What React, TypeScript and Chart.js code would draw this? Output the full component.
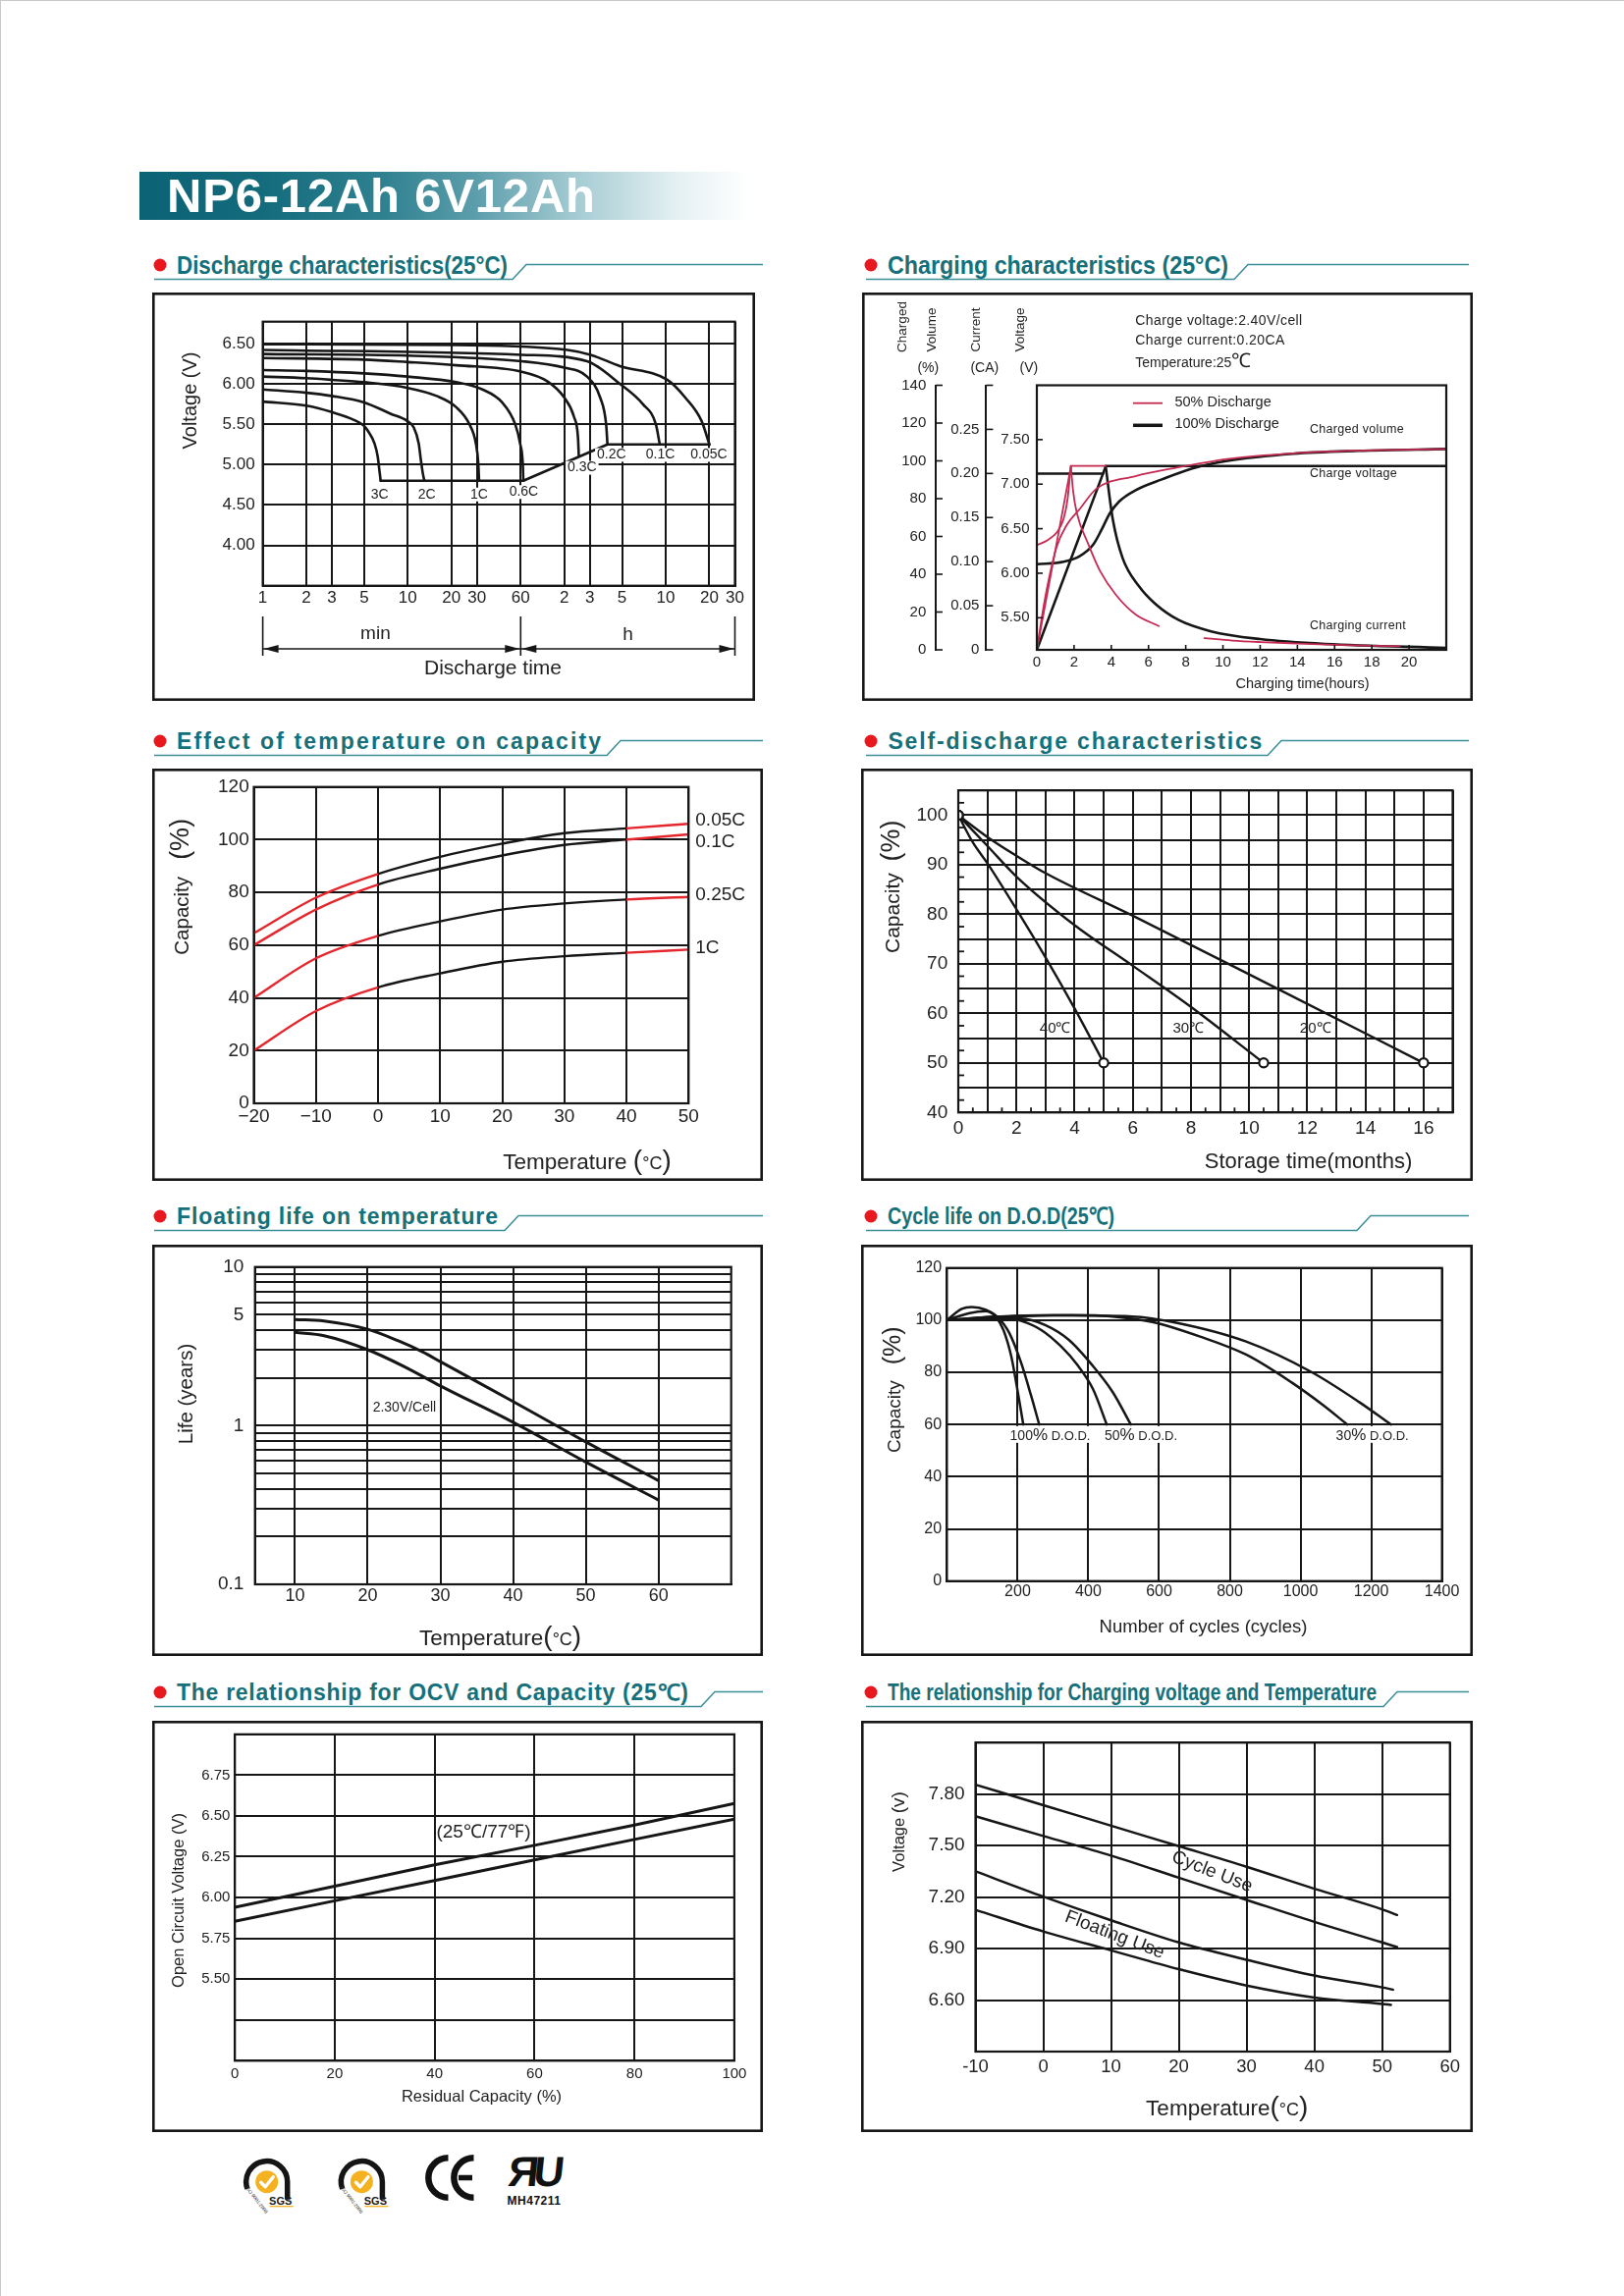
import React, { useEffect, useRef } from 'react';
import { Chart, registerables } from 'chart.js';

Chart.register(...registerables);

type Pt = [number, number];

const SANS = '"Liberation Sans", Arial, Helvetica, sans-serif';
const NARROW = '"Liberation Sans Narrow", "Arial Narrow", "Liberation Sans", sans-serif';
const INK = '#161616';
const TXT = '#222222';
const RED = '#e5262c';
const CRIMSON = '#c42a52';
const TEAL = '#16707a';
const TEAL_LINE = '#3a8f97';
const DOT_RED = '#e8181f';

Chart.defaults.font.family = SANS;
Chart.defaults.color = TXT;

/* ====================== DATA ====================== */

// 1. Discharge characteristics (x: minutes on log axis, y: volts)
const DIS_X_TICKS = [1, 2, 3, 5, 10, 20, 30, 60, 120, 180, 300, 600, 1200, 1800];
const DIS_X_LABELS = ['1', '2', '3', '5', '10', '20', '30', '60', '2', '3', '5', '10', '20', '30'];
const DIS_Y_TICKS = [4.0, 4.5, 5.0, 5.5, 6.0, 6.5];
const DIS_Y_LABELS = ['4.00', '4.50', '5.00', '5.50', '6.00', '6.50'];
const DIS_RATES = ['3C', '2C', '1C', '0.6C', '0.3C', '0.2C', '0.1C', '0.05C'];
const DIS_3C: Pt[] = [[1, 5.78], [2, 5.73], [3, 5.65], [4.3, 5.55], [5, 5.48], [5.3, 5.42], [5.9, 5.26], [6.2, 5.1], [6.4, 4.9], [6.5, 4.8]];
const DIS_2C: Pt[] = [[1, 5.93], [2, 5.89], [3, 5.85], [5, 5.77], [7.6, 5.63], [9.9, 5.54], [11, 5.46], [11.9, 5.26], [12.3, 5.06], [12.7, 4.89], [13, 4.8]];
const DIS_1C: Pt[] = [[1, 6.09], [2, 6.07], [3, 6.05], [5, 6.02], [10, 5.95], [15.8, 5.85], [21.6, 5.71], [26.6, 5.5], [29.5, 5.26], [30.6, 5.02], [31, 4.8]];
const DIS_06C: Pt[] = [[1, 6.17], [2, 6.16], [5, 6.13], [10, 6.09], [21.6, 6.02], [32.7, 5.93], [44.7, 5.77], [55, 5.5], [59.5, 5.26], [62, 5.02], [62.6, 4.8]];
const DIS_03C: Pt[] = [[1, 6.32], [5, 6.3], [10, 6.27], [21.6, 6.23], [61, 6.15], [92, 6.03], [120, 5.83], [140, 5.59], [149, 5.34], [151, 5.11]];
const DIS_02C: Pt[] = [[1, 6.37], [10, 6.35], [61, 6.28], [120, 6.2], [172, 6.09], [212, 5.83], [233, 5.5], [238, 5.25]];
const DIS_01C: Pt[] = [[1, 6.42], [61, 6.36], [172, 6.28], [290, 6.0], [417, 5.75], [513, 5.5], [546, 5.25]];
const DIS_005C: Pt[] = [[1, 6.49], [21.6, 6.48], [126, 6.42], [182, 6.36], [290, 6.22], [615, 6.05], [818, 5.83], [1060, 5.54], [1200, 5.25]];
const DIS_CUTOFF: Pt[] = [[6.5, 4.8], [62.6, 4.8], [238, 5.25], [1200, 5.25]];
const DIS_LABEL_AT: Pt[] = [[6.4, 4.63], [13.5, 4.63], [31, 4.63], [63, 4.66], [159, 4.96], [254, 5.12], [551, 5.12], [1190, 5.12]];

// 2. Charging characteristics (x: hours)
const CHG_X_TICKS = [0, 2, 4, 6, 8, 10, 12, 14, 16, 18, 20, 22];
const CHG_X_LABELS = ['0', '2', '4', '6', '8', '10', '12', '14', '16', '18', '20', ''];
const CHG_VOL_TICKS = [0, 20, 40, 60, 80, 100, 120, 140];
const CHG_VOL_LABELS = ['0', '20', '40', '60', '80', '100', '120', '140'];
const CHG_CUR_TICKS = [0, 0.05, 0.1, 0.15, 0.2, 0.25, 0.3];
const CHG_CUR_LABELS = ['0', '0.05', '0.10', '0.15', '0.20', '0.25', ''];
const CHG_V_TICKS = [5.5, 6.0, 6.5, 7.0, 7.5];
const CHG_V_LABELS = ['5.50', '6.00', '6.50', '7.00', '7.50'];
const CHG100_VOLUME: Pt[] = [[0, 45.3], [1.44, 46.6], [2.32, 49.7], [3.03, 55.7], [3.47, 63.4], [3.91, 72.1], [4.43, 78.6], [5.31, 84.5], [6.72, 90.2], [8.31, 95.9], [10.24, 100], [13.76, 103.8], [17.28, 105.3], [22, 106.3]];
const CHG100_CUR_RISE: Pt[] = [[0, 0], [3.7, 0.208]];
const CHG100_CUR_DECAY: Pt[] = [[3.7, 0.208], [4.08, 0.148], [4.61, 0.104], [5.49, 0.072], [6.37, 0.052], [7.6, 0.034], [9.36, 0.021], [12, 0.0122], [15.5, 0.0067], [22, 0.0022]];
const CHG100_VOLT_CC: Pt[] = [[0, 7.118], [3.55, 7.118]];
const CHG100_VOLT_CV: Pt[] = [[3.7, 7.204], [22, 7.204]];
const CHG50_VOLT_RISE: Pt[] = [[0, 6.315], [0.56, 6.37], [1.09, 6.463], [1.44, 6.61], [1.65, 6.83], [1.76, 7.056], [1.83, 7.204]];
const CHG50_VOLT_CV: Pt[] = [[1.83, 7.204], [3.7, 7.204]];
const CHG50_CUR_RISE: Pt[] = [[0, 0], [1.83, 0.208]];
const CHG50_CUR_DECAY: Pt[] = [[1.83, 0.208], [1.95, 0.18], [2.15, 0.155], [2.76, 0.12], [3.38, 0.09], [4.26, 0.062], [5.31, 0.04], [6.55, 0.027]];
const CHG50_CUR_TAIL: Pt[] = [[9.0, 0.0133], [10.5, 0.0105], [12, 0.0088], [14, 0.0072], [16, 0.0058], [18, 0.0047], [19.5, 0.004]];
const CHG50_VOLUME: Pt[] = [[0, 0], [0.4, 25], [1.05, 54], [1.6, 66], [2.32, 74.7], [3.17, 85], [5.3, 91.9], [7.4, 96.2], [10.24, 101], [13.76, 104], [17.28, 105.4], [22, 106.3]];

// 3. Effect of temperature on capacity
const TEMP_X = [-20, -10, 0, 10, 20, 30, 40, 50];
const TEMP_X_LABELS = ['\u221220', '\u221210', '0', '10', '20', '30', '40', '50'];
const CAP_Y_TICKS = [0, 20, 40, 60, 80, 100, 120];
const CAP_Y_LABELS = ['0', '20', '40', '60', '80', '100', '120'];
const CAP_005C = [64.5, 78, 87, 93.5, 98.5, 102.5, 104.3, 106];
const CAP_01C = [60, 73.5, 83, 89, 94, 98, 100, 102];
const CAP_025C = [40, 55, 63.5, 69, 73.5, 75.8, 77.3, 78.3];
const CAP_1C = [20, 35, 44, 49.3, 53.7, 55.8, 57.1, 58.3];
const CAP_NAMES = ['0.05C', '0.1C', '0.25C', '1C'];
const CAP_LABEL_Y = [107.3, 99.2, 79.1, 58.9];

// 4. Self-discharge characteristics (x: months)
const SD_X_TICKS = [0, 1, 2, 3, 4, 5, 6, 7, 8, 9, 10, 11, 12, 13, 14, 15, 16, 17];
const SD_X_LABELS = ['0', '', '2', '', '4', '', '6', '', '8', '', '10', '', '12', '', '14', '', '16', ''];
const SD_Y_TICKS = [40, 45, 50, 55, 60, 65, 70, 75, 80, 85, 90, 95, 100, 105];
const SD_Y_LABELS = ['40', '', '50', '', '60', '', '70', '', '80', '', '90', '', '100', ''];
const SD_40: Pt[] = [[0, 100], [0.5, 94.5], [1, 90.3], [2, 81], [3, 71.3], [4, 61], [5, 50]];
const SD_30: Pt[] = [[0, 100], [1, 93.8], [2, 87.6], [4, 77.8], [6, 69.6], [8, 61.3], [10.5, 50]];
const SD_20: Pt[] = [[0, 100], [1, 95.6], [2, 91.8], [3, 88.3], [6, 79.7], [11, 64.9], [16, 50]];
const SD_NAMES = ['40\u2103', '30\u2103', '20\u2103'];
const SD_LABEL_AT: Pt[] = [[3.33, 57], [7.91, 57], [12.28, 57]];

// 5. Floating life on temperature (y: years, log)
const LIFE_X_TICKS = [10, 20, 30, 40, 50, 60];
const LIFE_X_LABELS = ['10', '20', '30', '40', '50', '60'];
const LIFE_Y_TICKS = [0.1, 0.2, 0.3, 0.4, 0.5, 0.6, 0.7, 0.8, 0.9, 1, 2, 3, 4, 5, 6, 7, 8, 9, 10];
const LIFE_Y_LABELS = ['0.1', '', '', '', '', '', '', '', '', '1', '', '', '', '5', '', '', '', '', '10'];
const LIFE_UPPER: Pt[] = [[10, 4.66], [14, 4.57], [20, 4.05], [24.3, 3.41], [27.6, 2.91], [30, 2.53], [40, 1.42], [50, 0.79], [60, 0.45]];
const LIFE_LOWER: Pt[] = [[10, 3.87], [14, 3.69], [20, 3.01], [25, 2.36], [30, 1.78], [40, 1.05], [50, 0.59], [60, 0.34]];

// 6. Cycle life on D.O.D
const CYC_X_TICKS = [0, 200, 400, 600, 800, 1000, 1200, 1400];
const CYC_X_LABELS = ['', '200', '400', '600', '800', '1000', '1200', '1400'];
const CYC_Y_TICKS = [0, 20, 40, 60, 80, 100, 120];
const CYC_Y_LABELS = ['0', '20', '40', '60', '80', '100', '120'];
const DOD100_A: Pt[] = [[0, 100], [42, 104.3], [70, 105], [109, 104], [137, 101.5], [160, 96.2], [182, 86.1], [199, 73.6], [216, 60]];
const DOD100_B: Pt[] = [[0, 100], [64, 102.7], [109, 103.4], [143, 101.2], [177, 94.9], [210, 83.6], [238, 71.1], [261, 60]];
const DOD50_A: Pt[] = [[0, 100], [75, 100.8], [143, 101.4], [210, 99.7], [267, 96.2], [323, 89.9], [368, 83], [413, 73.6], [452, 60]];
const DOD50_B: Pt[] = [[0, 100], [210, 100.6], [278, 98.1], [345, 92.4], [413, 82.4], [469, 72.4], [520, 60]];
const DOD30_A: Pt[] = [[0, 100], [188, 101.6], [356, 101.9], [469, 101.4], [581, 99.3], [716, 93.7], [846, 86.8], [975, 76.1], [1065, 67.3], [1132, 60]];
const DOD30_B: Pt[] = [[0, 100], [300, 101.8], [525, 101.4], [638, 99.3], [846, 91.8], [1031, 80.1], [1166, 68.6], [1256, 60]];
const DOD_NAMES = ['100', '50', '30'];
const DOD_LABEL_AT: Pt[] = [[291.8, 56], [548.7, 56], [1202.9, 56]];

// 7. OCV vs capacity
const OCV_X_TICKS = [0, 20, 40, 60, 80, 100];
const OCV_X_LABELS = ['0', '20', '40', '60', '80', '100'];
const OCV_Y_TICKS = [5.0, 5.25, 5.5, 5.75, 6.0, 6.25, 6.5, 6.75, 7.0];
const OCV_Y_LABELS = ['', '', '5.50', '5.75', '6.00', '6.25', '6.50', '6.75', ''];
const OCV_UPPER: Pt[] = [[0, 5.94], [20, 6.07], [40, 6.2], [60, 6.32], [80, 6.444], [100, 6.576]];
const OCV_LOWER: Pt[] = [[0, 5.854], [20, 5.98], [40, 6.104], [60, 6.23], [80, 6.356], [100, 6.48]];

// 8. Charging voltage vs temperature
const CV_X_TICKS = [-10, 0, 10, 20, 30, 40, 50, 60];
const CV_X_LABELS = ['-10', '0', '10', '20', '30', '40', '50', '60'];
const CV_Y_TICKS = [6.3, 6.6, 6.9, 7.2, 7.5, 7.8, 8.1];
const CV_Y_LABELS = ['', '6.60', '6.90', '7.20', '7.50', '7.80', ''];
const CV_CYCLE_HI: Pt[] = [[-10, 7.855], [0, 7.736], [10, 7.616], [20, 7.497], [30, 7.377], [40, 7.249], [50, 7.129], [52.2, 7.096]];
const CV_CYCLE_LO: Pt[] = [[-10, 7.671], [0, 7.556], [10, 7.442], [20, 7.313], [30, 7.184], [40, 7.056], [50, 6.936], [52.2, 6.909]];
const CV_FLOAT_HI: Pt[] = [[-10, 7.35], [0, 7.203], [10, 7.065], [20, 6.936], [30, 6.835], [40, 6.743], [50, 6.674], [51.6, 6.661]];
const CV_FLOAT_LO: Pt[] = [[-10, 7.126], [0, 7.0], [10, 6.89], [20, 6.78], [30, 6.685], [40, 6.615], [50, 6.578], [51.3, 6.572]];

/* ====================== LAYOUT ====================== */

type Geo = { box: number[]; plot: number[] };
const G_DIS: Geo = { box: [155, 298, 614, 416], plot: [267.6, 327.7, 748.5, 596.7] };
const G_CHG: Geo = { box: [878, 298, 622, 416], plot: [1056, 392.5, 1473, 662] };
const G_CAP: Geo = { box: [155, 783, 622, 420], plot: [258.5, 801.7, 701.3, 1124] };
const G_SD: Geo = { box: [877, 783, 623, 420], plot: [976, 795, 1479.5, 1133.3] };
const G_LIFE: Geo = { box: [155, 1268, 622, 419], plot: [259.7, 1282.7, 744.7, 1614] };
const G_CYC: Geo = { box: [877, 1268, 623, 419], plot: [964.4, 1291.7, 1468.6, 1610.7] };
const G_OCV: Geo = { box: [155, 1753, 622, 419], plot: [239.2, 1766.7, 747.9, 2099.3] };
const G_CV: Geo = { box: [877, 1753, 623, 419], plot: [993.5, 1763.3, 1476.7, 2090] };

const HEADERS = [
  { text: 'Discharge characteristics(25\u00b0C)', col: 0, row: 0, w: 337, size: 26, slash: 522 },
  { text: 'Charging characteristics (25\u00b0C)', col: 1, row: 0, w: 347, size: 26, slash: 1257 },
  { text: 'Effect of temperature on capacity', col: 0, row: 1, w: 432, size: 23, slash: 618 },
  { text: 'Self-discharge characteristics', col: 1, row: 1, w: 381, size: 23, slash: 1291 },
  { text: 'Floating life on temperature', col: 0, row: 2, w: 327, size: 23, slash: 514 },
  { text: 'Cycle life on D.O.D(25\u2103)', col: 1, row: 2, w: 231, size: 24, slash: 1382 },
  { text: 'The relationship  for OCV and Capacity (25\u2103)', col: 0, row: 3, w: 528, size: 23, slash: 714 },
  { text: 'The relationship for Charging voltage and Temperature', col: 1, row: 3, w: 498, size: 24, slash: 1409 },
];
const HEADER_DOT_Y = [270, 755, 1239, 1724];

/* ====================== HELPERS ====================== */

const xy = (a: Pt[]) => a.map(([x, y]) => ({ x, y }));

function series(data: Pt[], color: string, width: number, extra: any = {}) {
  return {
    data: xy(data), borderColor: color, backgroundColor: color, borderWidth: width,
    pointRadius: 0, pointHoverRadius: 0, fill: false, cubicInterpolationMode: 'monotone',
    borderCapStyle: 'round', borderJoinStyle: 'round', ...extra,
  };
}
function straight(data: Pt[], color: string, width: number, extra: any = {}) {
  return series(data, color, width, { cubicInterpolationMode: 'default', tension: 0, ...extra });
}

function axis(o: any) {
  const horiz = o.pos === 'bottom';
  const grid = o.grid !== false;
  return {
    type: o.type || 'linear',
    position: o.pos,
    min: o.min, max: o.max, bounds: 'data', weight: o.weight || 0,
    afterBuildTicks: (s: any) => { s.ticks = o.ticks.map((v: number) => ({ value: v })); },
    afterFit: (s: any) => { if (horiz) s.height = o.fit; else s.width = o.fit; },
    ticks: {
      autoSkip: false, maxRotation: 0, minRotation: 0, padding: o.pad, color: TXT,
      font: { size: o.size, family: o.family || SANS },
      callback: (_v: any, i: number) => (o.labels[i] ?? ''),
    },
    grid: { display: grid, drawOnChartArea: grid, drawTicks: false, color: INK, lineWidth: 2 },
    border: { display: true, color: INK, width: 2 },
  };
}

function layoutOf(g: Geo) {
  const [bx, by, bw, bh] = g.box;
  const [l, t, r, b] = g.plot;
  return { padding: { left: 0, top: t - by, right: bx + bw - r, bottom: 0 }, yW: l - bx, xH: by + bh - b };
}

const BASE = {
  responsive: false, maintainAspectRatio: false, animation: false, devicePixelRatio: 1, events: [],
  plugins: { legend: { display: false }, tooltip: { enabled: false }, title: { display: false } },
};

type Ctx = CanvasRenderingContext2D;

function T(ctx: Ctx, s: string, x: number, y: number, size: number, o: any = {}) {
  ctx.save();
  ctx.translate(x, y);
  if (o.rot) ctx.rotate(o.rot);
  ctx.font = `${o.weight || 'normal'} ${size}px ${o.family || SANS}`;
  if (o.ls) (ctx as any).letterSpacing = `${o.ls}px`;
  ctx.fillStyle = o.color || TXT;
  ctx.textAlign = o.align || 'center';
  ctx.textBaseline = 'middle';
  ctx.fillText(s, 0, 0);
  ctx.restore();
}

function richWidth(ctx: Ctx, parts: any[]) {
  let w = 0;
  parts.forEach(([s, sz, fam]) => { ctx.font = `${sz}px ${fam || SANS}`; w += ctx.measureText(s).width; });
  return w;
}

function R(ctx: Ctx, parts: any[], x: number, y: number, o: any = {}) {
  ctx.save();
  ctx.translate(x, y);
  if (o.rot) ctx.rotate(o.rot);
  ctx.fillStyle = o.color || TXT;
  ctx.textBaseline = 'alphabetic';
  ctx.textAlign = 'left';
  const total = richWidth(ctx, parts);
  let cx = o.align === 'left' ? 0 : -total / 2;
  const base = parts[0][1] * 0.36;
  parts.forEach(([s, sz, fam]) => {
    ctx.font = `${sz}px ${fam || SANS}`;
    ctx.fillText(s, cx, base);
    cx += ctx.measureText(s).width;
  });
  ctx.restore();
}

function seg(ctx: Ctx, x1: number, y1: number, x2: number, y2: number) {
  ctx.beginPath(); ctx.moveTo(x1, y1); ctx.lineTo(x2, y2); ctx.stroke();
}

function arrowHead(ctx: Ctx, tip: number, y: number, dir: number) {
  ctx.beginPath();
  ctx.moveTo(tip, y);
  ctx.lineTo(tip - dir * 15, y - 4);
  ctx.lineTo(tip - dir * 15, y + 4);
  ctx.closePath();
  ctx.fill();
}

function extras(g: Geo, draw: (c: any, ctx: Ctx, P: (x: number, y: number) => number[]) => void) {
  return {
    id: 'extras',
    afterDraw(c: any) {
      const ctx = c.ctx as Ctx;
      const a = c.chartArea;
      ctx.save();
      ctx.strokeStyle = INK;
      ctx.lineWidth = 2.2;
      ctx.strokeRect(a.left, a.top, a.right - a.left, a.bottom - a.top);
      ctx.lineWidth = 2.6;
      ctx.strokeRect(1.3, 1.3, c.width - 2.6, c.height - 2.6);
      ctx.restore();
      ctx.save();
      draw(c, ctx, (x: number, y: number) => [x - g.box[0], y - g.box[1]]);
      ctx.restore();
    },
  };
}

const ROT_UP = -Math.PI / 2;

/* ====================== CHARTS ====================== */

function makeDischarge() {
  const g = G_DIS; const L = layoutOf(g);
  const curves = [DIS_3C, DIS_2C, DIS_1C, DIS_06C, DIS_03C, DIS_02C, DIS_01C, DIS_005C];
  return {
    type: 'line',
    data: { datasets: [...curves.map((d) => series(d, INK, 2.6)), straight(DIS_CUTOFF, INK, 2.6)] },
    options: {
      ...BASE, layout: { padding: L.padding },
      scales: {
        x: axis({ type: 'logarithmic', pos: 'bottom', min: 1, max: 1800, ticks: DIS_X_TICKS, labels: DIS_X_LABELS, size: 17, pad: 2, fit: L.xH }),
        y: axis({ pos: 'left', min: 3.5, max: 6.77, ticks: DIS_Y_TICKS, labels: DIS_Y_LABELS, size: 17, pad: 8, fit: L.yW }),
      },
    },
    plugins: [extras(g, (c, ctx, P) => {
      const xs = c.scales.x, ys = c.scales.y;
      DIS_RATES.forEach((name, i) => {
        const px = xs.getPixelForValue(DIS_LABEL_AT[i][0]);
        const py = ys.getPixelForValue(DIS_LABEL_AT[i][1]);
        ctx.font = `14px ${NARROW}`;
        const w = ctx.measureText(name).width;
        ctx.fillStyle = '#ffffff';
        ctx.fillRect(px - w / 2 - 2, py - 7, w + 4, 14);
        T(ctx, name, px, py, 14, { family: NARROW });
      });
      let [x, y] = P(194, 408);
      T(ctx, 'Voltage (V)', x, y, 20, { rot: ROT_UP });
      const x1 = xs.getPixelForValue(1), x60 = xs.getPixelForValue(60), xe = xs.getPixelForValue(1800);
      const [, yTop] = P(0, 628); const [, yBot] = P(0, 668); const [, yA] = P(0, 661);
      ctx.strokeStyle = INK; ctx.fillStyle = INK; ctx.lineWidth = 1.6;
      [x1, x60, xe].forEach((xx) => seg(ctx, xx, yTop, xx, yBot));
      seg(ctx, x1, yA, xe, yA);
      arrowHead(ctx, x1 + 1, yA, -1);
      arrowHead(ctx, x60 - 1, yA, 1);
      arrowHead(ctx, x60 + 1, yA, -1);
      arrowHead(ctx, xe - 1, yA, 1);
      [x, y] = P(382.4, 646); T(ctx, 'min', x, y, 19);
      [x, y] = P(639.5, 647); T(ctx, 'h', x, y, 19);
      [x, y] = P(502, 681); T(ctx, 'Discharge time', x, y, 21);
    })],
  };
}

function makeCharging() {
  const g = G_CHG; const L = layoutOf(g);
  const on = (id: string) => ({ yAxisID: id, xAxisID: 'x' });
  return {
    type: 'line',
    data: {
      datasets: [
        series(CHG50_VOLUME, CRIMSON, 1.8, on('yVol')),
        series(CHG50_VOLT_RISE, CRIMSON, 1.8, on('yV')),
        straight(CHG50_VOLT_CV, CRIMSON, 1.8, on('yV')),
        straight(CHG50_CUR_RISE, CRIMSON, 1.8, on('yCur')),
        series(CHG50_CUR_DECAY, CRIMSON, 1.8, on('yCur')),
        series(CHG50_CUR_TAIL, CRIMSON, 1.8, on('yCur')),
        series(CHG100_VOLUME, INK, 2.6, on('yVol')),
        straight(CHG100_CUR_RISE, INK, 2.6, on('yCur')),
        series(CHG100_CUR_DECAY, INK, 2.6, on('yCur')),
        straight(CHG100_VOLT_CC, INK, 2.6, on('yV')),
        straight(CHG100_VOLT_CV, INK, 2.6, on('yV')),
      ],
    },
    options: {
      ...BASE, layout: { padding: L.padding },
      scales: {
        x: axis({ pos: 'bottom', min: 0, max: 22, ticks: CHG_X_TICKS, labels: CHG_X_LABELS, size: 15, pad: 4, fit: L.xH, grid: false }),
        yV: axis({ pos: 'left', weight: 0, min: 5.14, max: 8.11, ticks: CHG_V_TICKS, labels: CHG_V_LABELS, size: 15, pad: 7.5, fit: 1056 - 1004.4, grid: false }),
        yCur: axis({ pos: 'left', weight: 1, min: 0, max: 0.3, ticks: CHG_CUR_TICKS, labels: CHG_CUR_LABELS, size: 15, pad: 7, fit: 1004.4 - 953, grid: false }),
        yVol: axis({ pos: 'left', weight: 2, min: 0, max: 140, ticks: CHG_VOL_TICKS, labels: CHG_VOL_LABELS, size: 15, pad: 9.7, fit: 953 - 878, grid: false }),
      },
    },
    plugins: [extras(g, (c, ctx, P) => {
      const sV = c.scales.yV, sC = c.scales.yCur, sVol = c.scales.yVol, sx = c.scales.x;
      ctx.strokeStyle = INK; ctx.lineWidth = 1.6;
      CHG_VOL_TICKS.forEach((v) => { const yy = sVol.getPixelForValue(v); seg(ctx, sVol.right, yy, sVol.right + 7, yy); });
      CHG_CUR_TICKS.forEach((v) => { const yy = sC.getPixelForValue(v); seg(ctx, sC.right, yy, sC.right + 7, yy); });
      CHG_V_TICKS.forEach((v) => { const yy = sV.getPixelForValue(v); seg(ctx, sV.right, yy, sV.right + 6, yy); });
      CHG_X_TICKS.forEach((v) => { const xx = sx.getPixelForValue(v); seg(ctx, xx, sx.top, xx, sx.top - 5); });
      let [x, y] = P(919.2, 333); T(ctx, 'Charged', x, y, 13.5, { rot: ROT_UP });
      [x, y] = P(949.3, 336); T(ctx, 'Volume', x, y, 13.5, { rot: ROT_UP });
      [x, y] = P(994.7, 336); T(ctx, 'Current', x, y, 13.5, { rot: ROT_UP });
      [x, y] = P(1039.7, 336); T(ctx, 'Voltage', x, y, 13.5, { rot: ROT_UP });
      [x, y] = P(945.3, 375); T(ctx, '(%)', x, y, 14);
      [x, y] = P(1002.8, 375); T(ctx, '(CA)', x, y, 14);
      [x, y] = P(1047.8, 375); T(ctx, '(V)', x, y, 14);
      [x, y] = P(1156.3, 327.3); T(ctx, 'Charge voltage:2.40V/cell', x, y, 14, { align: 'left', ls: 0.4 });
      [x, y] = P(1156.3, 347.3); T(ctx, 'Charge current:0.20CA', x, y, 14, { align: 'left', ls: 0.4 });
      [x, y] = P(1156.3, 369.3); R(ctx, [['Temperature:25', 14], ['\u2103', 20]], x, y, { align: 'left' });
      ctx.lineWidth = 1.8; ctx.strokeStyle = CRIMSON;
      let [lx1, ly] = P(1154, 410.7); let [lx2] = P(1184, 0); seg(ctx, lx1, ly, lx2, ly);
      ctx.lineWidth = 3.5; ctx.strokeStyle = INK;
      [lx1, ly] = P(1154, 433.3); seg(ctx, lx1, ly, lx2, ly);
      [x, y] = P(1196.4, 410); T(ctx, '50% Discharge', x, y, 14.5, { align: 'left' });
      [x, y] = P(1196.4, 432); T(ctx, '100% Discharge', x, y, 14.5, { align: 'left' });
      [x, y] = P(1334, 438); T(ctx, 'Charged volume', x, y, 12.5, { align: 'left', ls: 0.3 });
      [x, y] = P(1334, 483); T(ctx, 'Charge voltage', x, y, 12.5, { align: 'left', ls: 0.3 });
      [x, y] = P(1334, 638); T(ctx, 'Charging current', x, y, 12.5, { align: 'left', ls: 0.3 });
      [x, y] = P(1326.5, 697.3); T(ctx, 'Charging time(hours)', x, y, 14.5);
    })],
  };
}

function makeCapacity() {
  const g = G_CAP; const L = layoutOf(g);
  const seriesT = (vals: number[]) => ({
    data: TEMP_X.map((x, i) => ({ x, y: vals[i] })), borderColor: INK, borderWidth: 2.4, pointRadius: 0, fill: false,
    cubicInterpolationMode: 'monotone',
    segment: { borderColor: (s: any) => (s.p0.parsed.x < 0 || s.p0.parsed.x >= 40 ? RED : INK) },
  });
  return {
    type: 'line',
    data: { datasets: [seriesT(CAP_005C), seriesT(CAP_01C), seriesT(CAP_025C), seriesT(CAP_1C)] },
    options: {
      ...BASE, layout: { padding: L.padding },
      scales: {
        x: axis({ pos: 'bottom', min: -20, max: 50, ticks: TEMP_X, labels: TEMP_X_LABELS, size: 19, pad: 2.6, fit: L.xH }),
        y: axis({ pos: 'left', min: 0, max: 120, ticks: CAP_Y_TICKS, labels: CAP_Y_LABELS, size: 19, pad: 4.8, fit: L.yW }),
      },
    },
    plugins: [extras(g, (c, ctx, P) => {
      const xs = c.scales.x, ys = c.scales.y;
      CAP_NAMES.forEach((s, i) => T(ctx, s, xs.getPixelForValue(50) + 7, ys.getPixelForValue(CAP_LABEL_Y[i]), 19, { align: 'left' }));
      let [x, y] = P(184.2, 903.3);
      R(ctx, [['Capacity', 20.5], ['   ', 20.5], ['(%)', 27]], x, y, { rot: ROT_UP });
      [x, y] = P(598, 1182.7);
      R(ctx, [['Temperature ', 22.5], ['(', 28], ['\u00b0C', 18], [')', 28]], x, y);
    })],
  };
}

function makeSelfDischarge() {
  const g = G_SD; const L = layoutOf(g);
  const circ = (d: Pt[]) => series(d, INK, 2.4, {
    pointRadius: (s: any) => (s.dataIndex === 0 || s.dataIndex === d.length - 1 ? 4.6 : 0),
    pointBackgroundColor: '#ffffff', pointBorderColor: INK, pointBorderWidth: 2.2,
  });
  return {
    type: 'line',
    data: { datasets: [circ(SD_40), circ(SD_30), circ(SD_20)] },
    options: {
      ...BASE, layout: { padding: L.padding },
      scales: {
        x: axis({ pos: 'bottom', min: 0, max: 17, ticks: SD_X_TICKS, labels: SD_X_LABELS, size: 19, pad: 4.6, fit: L.xH }),
        y: axis({ pos: 'left', min: 40, max: 105, ticks: SD_Y_TICKS, labels: SD_Y_LABELS, size: 19, pad: 10.8, fit: L.yW }),
      },
    },
    plugins: [extras(g, (c, ctx, P) => {
      const xs = c.scales.x, ys = c.scales.y;
      ctx.strokeStyle = INK; ctx.lineWidth = 1.8;
      for (let v = 42.5; v < 105; v += 5) { const yy = ys.getPixelForValue(v); seg(ctx, xs.left, yy, xs.left + 6, yy); }
      for (let v = 0.5; v < 17; v += 1) { const xx = xs.getPixelForValue(v); seg(ctx, xx, ys.bottom, xx, ys.bottom - 5); }
      SD_NAMES.forEach((s, i) => T(ctx, s, xs.getPixelForValue(SD_LABEL_AT[i][0]), ys.getPixelForValue(SD_LABEL_AT[i][1]), 15, { family: NARROW }));
      let [x, y] = P(908.5, 903.3);
      R(ctx, [['Capacity', 21], ['  ', 21], ['(%)', 27]], x, y, { rot: ROT_UP });
      [x, y] = P(1332.5, 1184);
      T(ctx, 'Storage time(months)', x, y, 22);
    })],
  };
}

function makeLife() {
  const g = G_LIFE; const L = layoutOf(g);
  return {
    type: 'line',
    data: { datasets: [series(LIFE_UPPER, INK, 3), series(LIFE_LOWER, INK, 3)] },
    options: {
      ...BASE, layout: { padding: L.padding },
      scales: {
        x: axis({ pos: 'bottom', min: 4.5, max: 70, ticks: LIFE_X_TICKS, labels: LIFE_X_LABELS, size: 18, pad: 1, fit: L.xH }),
        y: axis({ type: 'logarithmic', pos: 'left', min: 0.1, max: 10, ticks: LIFE_Y_TICKS, labels: LIFE_Y_LABELS, size: 19, pad: 11.3, fit: L.yW }),
      },
    },
    plugins: [extras(g, (c, ctx, P) => {
      const xs = c.scales.x, ys = c.scales.y;
      T(ctx, '2.30V/Cell', xs.getPixelForValue(25.06), ys.getPixelForValue(1.3), 14);
      let [x, y] = P(190.2, 1420);
      T(ctx, 'Life (years)', x, y, 20.5, { rot: ROT_UP });
      [x, y] = P(509.6, 1668.3);
      R(ctx, [['Temperature', 22.5], ['(', 28], ['\u00b0C', 18], [')', 28]], x, y);
    })],
  };
}

function makeCycle() {
  const g = G_CYC; const L = layoutOf(g);
  const curves = [DOD100_A, DOD100_B, DOD50_A, DOD50_B, DOD30_A, DOD30_B];
  return {
    type: 'line',
    data: { datasets: curves.map((d) => series(d, INK, 2.5)) },
    options: {
      ...BASE, layout: { padding: L.padding },
      scales: {
        x: axis({ pos: 'bottom', min: 0, max: 1400, ticks: CYC_X_TICKS, labels: CYC_X_LABELS, size: 16, pad: 1.4, fit: L.xH }),
        y: axis({ pos: 'left', min: 0, max: 120, ticks: CYC_Y_TICKS, labels: CYC_Y_LABELS, size: 16, pad: 5.3, fit: L.yW }),
      },
    },
    plugins: [extras(g, (c, ctx, P) => {
      const xs = c.scales.x, ys = c.scales.y;
      DOD_NAMES.forEach((n, i) => {
        const parts = [[n, 14, NARROW], ['%', 17], [' D.O.D.', 13]];
        const px = xs.getPixelForValue(DOD_LABEL_AT[i][0]);
        const py = ys.getPixelForValue(DOD_LABEL_AT[i][1]);
        const w = richWidth(ctx, parts);
        ctx.fillStyle = '#ffffff';
        ctx.fillRect(px - w / 2 - 2, py - 9, w + 4, 17);
        R(ctx, parts, px, py);
      });
      let [x, y] = P(910.5, 1415.8);
      R(ctx, [['Capacity', 19], ['   ', 19], ['(%)', 25]], x, y, { rot: ROT_UP });
      [x, y] = P(1225.5, 1658.3);
      T(ctx, 'Number of cycles (cycles)', x, y, 18.5);
    })],
  };
}

function makeOcv() {
  const g = G_OCV; const L = layoutOf(g);
  return {
    type: 'line',
    data: { datasets: [straight(OCV_UPPER, INK, 3), straight(OCV_LOWER, INK, 3)] },
    options: {
      ...BASE, layout: { padding: L.padding },
      scales: {
        x: axis({ pos: 'bottom', min: 0, max: 100, ticks: OCV_X_TICKS, labels: OCV_X_LABELS, size: 15, pad: 5, fit: L.xH }),
        y: axis({ pos: 'left', min: 5.0, max: 7.0, ticks: OCV_Y_TICKS, labels: OCV_Y_LABELS, size: 15, pad: 4.8, fit: L.yW }),
      },
    },
    plugins: [extras(g, (c, ctx, P) => {
      const xs = c.scales.x, ys = c.scales.y;
      T(ctx, '(25\u2103/77\u2109)', xs.getPixelForValue(49.8), ys.getPixelForValue(6.399), 19);
      let [x, y] = P(182.1, 1936);
      T(ctx, 'Open Circuit Voltage (V)', x, y, 16.5, { rot: ROT_UP });
      [x, y] = P(490.5, 2136.7);
      T(ctx, 'Residual Capacity (%)', x, y, 16.5);
    })],
  };
}

function makeChargeVoltage() {
  const g = G_CV; const L = layoutOf(g);
  return {
    type: 'line',
    data: { datasets: [series(CV_CYCLE_HI, INK, 2.5), series(CV_CYCLE_LO, INK, 2.5), series(CV_FLOAT_HI, INK, 2.5), series(CV_FLOAT_LO, INK, 2.5)] },
    options: {
      ...BASE, layout: { padding: L.padding },
      scales: {
        x: axis({ pos: 'bottom', min: -10, max: 60, ticks: CV_X_TICKS, labels: CV_X_LABELS, size: 18.5, pad: 5.3, fit: L.xH }),
        y: axis({ pos: 'left', min: 6.3, max: 8.1, ticks: CV_Y_TICKS, labels: CV_Y_LABELS, size: 19, pad: 10.9, fit: L.yW }),
      },
    },
    plugins: [extras(g, (c, ctx, P) => {
      const xs = c.scales.x, ys = c.scales.y;
      T(ctx, 'Cycle Use', xs.getPixelForValue(24.9), ys.getPixelForValue(7.347), 19, { rot: (21.5 * Math.PI) / 180 });
      T(ctx, 'Floating Use', xs.getPixelForValue(10.54), ys.getPixelForValue(6.979), 19, { rot: (21 * Math.PI) / 180 });
      let [x, y] = P(914.6, 1866);
      R(ctx, [['Voltage ', 16.5], ['(v)', 19]], x, y, { rot: ROT_UP });
      [x, y] = P(1249.7, 2146.7);
      R(ctx, [['Temperature', 22.5], ['(', 28], ['\u00b0C', 18], [')', 28]], x, y);
    })],
  };
}

const CHARTS: { geo: Geo; make: () => any }[] = [
  { geo: G_DIS, make: makeDischarge },
  { geo: G_CHG, make: makeCharging },
  { geo: G_CAP, make: makeCapacity },
  { geo: G_SD, make: makeSelfDischarge },
  { geo: G_LIFE, make: makeLife },
  { geo: G_CYC, make: makeCycle },
  { geo: G_OCV, make: makeOcv },
  { geo: G_CV, make: makeChargeVoltage },
];

/* ====================== COMPONENTS ====================== */

function ChartCanvas({ geo, make }: { geo: Geo; make: () => any }) {
  const ref = useRef<HTMLCanvasElement | null>(null);
  useEffect(() => {
    if (!ref.current) return;
    const chart = new Chart(ref.current, make());
    return () => chart.destroy();
  }, []);
  const [x, y, w, h] = geo.box;
  return (
    <canvas ref={ref} width={w} height={h}
      style={{ position: 'absolute', left: x, top: y, width: `${w}px`, height: `${h}px`, display: 'block' }} />
  );
}

let measureCtx: CanvasRenderingContext2D | null = null;
function measureText(text: string, font: string) {
  if (!measureCtx) measureCtx = document.createElement('canvas').getContext('2d');
  if (!measureCtx) return text.length * 10;
  measureCtx.font = font;
  return measureCtx.measureText(text).width;
}

function FitText({ text, x, cy, size, width, color }: { text: string; x: number; cy: number; size: number; width: number; color: string }) {
  const font = `bold ${size}px ${SANS}`;
  const natural = measureText(text, font);
  let ls = 0;
  let k = 1;
  if (natural > width) k = width / natural;
  else ls = (width - natural) / Math.max(1, text.length - 1);
  return (
    <div style={{
      position: 'absolute', left: x, top: cy - size * 0.49, height: size, lineHeight: `${size}px`,
      fontFamily: SANS, fontWeight: 'bold', fontSize: size, color, whiteSpace: 'nowrap',
      letterSpacing: `${ls}px`, transform: k !== 1 ? `scaleX(${k})` : undefined, transformOrigin: '0 50%',
    }}>{text}</div>
  );
}

function SgsLogo({ cx, cy }: { cx: number; cy: number }) {
  return (
    <g>
      <path d={`M${cx - 19.7} ${cy + 7.2} A21 21 0 1 1 ${cx + 21} ${cy} L${cx + 21} ${cy + 18}`} fill="none" stroke="#151515" strokeWidth={5.5} />
      <circle cx={cx} cy={cy} r={11.5} fill="#f4b120" />
      <path d={`M${cx - 6} ${cy + 0.5} L${cx - 1.5} ${cy + 5} L${cx + 6.5} ${cy - 5}`} fill="none" stroke="#ffffff" strokeWidth={3.4} strokeLinecap="round" strokeLinejoin="round" />
      <text x={cx + 14} y={cy + 23} fontSize={11} fontWeight="bold" fontFamily={SANS} fill="#1a1a1a" textAnchor="middle">SGS</text>
      <line x1={cx + 3} y1={cy + 25} x2={cx + 27} y2={cy + 25} stroke="#f4b120" strokeWidth={1.3} />
      <text transform={`translate(${cx - 22} ${cy + 6}) rotate(52)`} fontSize={5} fontFamily={SANS} fill="#333">ISO 9001:2008</text>
    </g>
  );
}

function PageDecor() {
  return (
    <svg width={1654} height={2339} style={{ position: 'absolute', left: 0, top: 0 }}>
      <defs>
        <linearGradient id="titleGrad" x1="0" x2="1" y1="0" y2="0">
          <stop offset="0" stopColor="#0b6274" />
          <stop offset="0.2" stopColor="#136b7c" />
          <stop offset="0.4" stopColor="#2f8190" />
          <stop offset="0.55" stopColor="#5c9dab" />
          <stop offset="0.72" stopColor="#a6ccd3" />
          <stop offset="0.88" stopColor="#e3f0f2" />
          <stop offset="1" stopColor="#ffffff" />
        </linearGradient>
      </defs>
      <line x1={0.5} y1={0} x2={0.5} y2={2339} stroke="#c9c9c9" strokeWidth={1} />
      <line x1={0} y1={0.5} x2={1654} y2={0.5} stroke="#c9c9c9" strokeWidth={1} />
      <rect x={142} y={175} width={620} height={49} fill="url(#titleGrad)" />
      {HEADERS.map((h, i) => {
        const dy = HEADER_DOT_Y[h.row];
        const x0 = h.col === 0 ? 157 : 882;
        const x1 = h.col === 0 ? 777 : 1496;
        const dx = h.col === 0 ? 163 : 887;
        const lo = dy + 14.5;
        const up = dy - 0.5;
        return (
          <g key={i}>
            <circle cx={dx} cy={dy} r={6.5} fill={DOT_RED} />
            <polyline points={`${x0},${lo} ${h.slash},${lo} ${h.slash + 14},${up} ${x1},${up}`} fill="none" stroke={TEAL_LINE} strokeWidth={1.5} />
          </g>
        );
      })}
      <SgsLogo cx={271.7} cy={2222.7} />
      <SgsLogo cx={368.4} cy={2222.7} />
      <path d="M456.5 2198.3 A20.2 20.2 0 0 0 456.5 2238.7" fill="none" stroke="#111" strokeWidth={6.5} />
      <path d="M482.5 2198.3 A20.2 20.2 0 0 0 482.5 2238.7" fill="none" stroke="#111" strokeWidth={6.5} />
      <line x1={467} y1={2218.5} x2={481} y2={2218.5} stroke="#111" strokeWidth={5.5} />
      <text x={543.5} y={2227} fontSize={43} fontWeight="bold" fontFamily={SANS} fill="#111" textAnchor="middle" letterSpacing={-5} transform="skewX(-6) translate(233 0)">{'\u042FU'}</text>
      <text x={544} y={2246} fontSize={12} fontWeight="bold" fontFamily={SANS} fill="#111" textAnchor="middle" letterSpacing={0.5}>MH47211</text>
    </svg>
  );
}

export default function App() {
  return (
    <div style={{ position: 'absolute', left: 0, top: 0, width: 1654, height: 2339, background: '#ffffff', overflow: 'hidden', fontFamily: SANS }}>
      <PageDecor />
      <FitText text="NP6-12Ah 6V12Ah" x={170} cy={199.5} size={49} width={436} color="#ffffff" />
      {HEADERS.map((h, i) => (
        <FitText key={i} text={h.text} x={h.col === 0 ? 180 : 904.4} cy={HEADER_DOT_Y[h.row]} size={h.size} width={h.w} color={TEAL} />
      ))}
      {CHARTS.map((c, i) => <ChartCanvas key={i} geo={c.geo} make={c.make} />)}
    </div>
  );
}
